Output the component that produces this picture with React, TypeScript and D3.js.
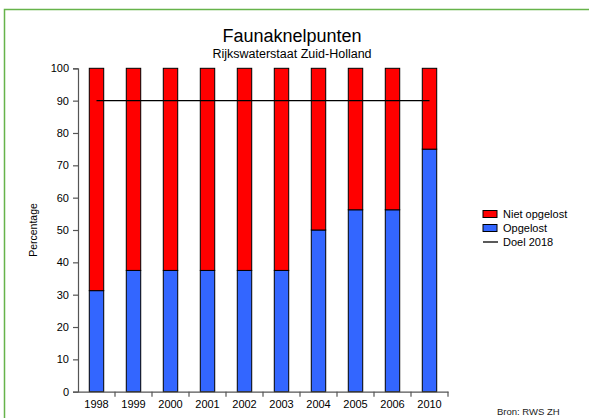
import * as d3 from 'd3';
import React, { useRef, useEffect } from 'react';

const years = ["1998", "1999", "2000", "2001", "2002", "2003", "2004", "2005", "2006", "2010"];
const opgelost = [31.25, 37.5, 37.5, 37.5, 37.5, 37.5, 50, 56.25, 56.25, 75];
const nietOpgelost = [68.75, 62.5, 62.5, 62.5, 62.5, 62.5, 50, 43.75, 43.75, 25];
const doel2018 = 90;
const yTicks = [0, 10, 20, 30, 40, 50, 60, 70, 80, 90, 100];
const legendItems = ["Niet opgelost", "Opgelost", "Doel 2018"];

const W = 589;
const H = 418;
const font = "Liberation Sans, Arial, sans-serif";

function App() {
    const ref = useRef<SVGSVGElement>(null);

    useEffect(() => {
        const svg = d3.select(ref.current);
        svg.selectAll("*").remove();

        // groene rand
        svg.append("rect")
            .attr("x", 4.5).attr("y", 9.5)
            .attr("width", W + 10).attr("height", H + 10)
            .attr("fill", "none")
            .attr("stroke", "#66b34a")
            .attr("stroke-width", 1.5);

        svg.append("text")
            .attr("x", 292).attr("y", 42)
            .attr("text-anchor", "middle")
            .attr("font-family", font)
            .attr("font-size", 18)
            .text("Faunaknelpunten");
        svg.append("text")
            .attr("x", 292).attr("y", 58)
            .attr("text-anchor", "middle")
            .attr("font-family", font)
            .attr("font-size", 12.5)
            .text("Rijkswaterstaat Zuid-Holland");

        const x = d3.scaleBand()
            .domain(years)
            .range([78, 448])
            .paddingInner(0)
            .paddingOuter(0);
        const y = d3.scaleLinear()
            .domain([0, 100])
            .range([391.7, 68.3]);

        const bw = x.bandwidth() * 0.39;
        const cx = (d: string) => (x(d) as number) + x.bandwidth() / 2;

        const rows = years.map((yr, i) => ({ yr, a: opgelost[i], b: nietOpgelost[i] }));

        const g = svg.append("g");
        g.selectAll("rect.blue")
            .data(rows)
            .join("rect")
            .attr("class", "blue")
            .attr("x", d => cx(d.yr) - bw / 2)
            .attr("width", bw)
            .attr("y", d => y(d.a))
            .attr("height", d => y(0) - y(d.a))
            .attr("fill", "#3366ff")
            .attr("stroke", "#000")
            .attr("stroke-width", 1);
        g.selectAll("rect.red")
            .data(rows)
            .join("rect")
            .attr("class", "red")
            .attr("x", d => cx(d.yr) - bw / 2)
            .attr("width", bw)
            .attr("y", d => y(d.a + d.b))
            .attr("height", d => y(d.a) - y(d.a + d.b))
            .attr("fill", "#ff0000")
            .attr("stroke", "#000")
            .attr("stroke-width", 1);

        // doel lijn
        svg.append("line")
            .attr("x1", cx(years[0])).attr("x2", cx(years[years.length - 1]))
            .attr("y1", y(doel2018)).attr("y2", y(doel2018))
            .attr("stroke", "#000")
            .attr("stroke-width", 1.3);

        // Y axis
        const yAxis = svg.append("g")
            .attr("transform", `translate(78,0)`)
            .call(d3.axisLeft(y).tickValues(yTicks).tickSizeOuter(0).tickSize(5).tickPadding(4));
        yAxis.selectAll("path, line").attr("stroke", "#555").attr("stroke-width", 1.2);
        yAxis.selectAll("text").attr("font-family", font).attr("font-size", 11).attr("fill", "#000");

        // X axis
        const xAxis = svg.append("g")
            .attr("transform", `translate(0,${y(0)})`)
            .call(d3.axisBottom(x).tickSize(0).tickPadding(9).tickSizeOuter(0));
        xAxis.select("path").attr("stroke", "#555").attr("stroke-width", 1.2);
        xAxis.selectAll("text").attr("font-family", font).attr("font-size", 11).attr("fill", "#000");
        xAxis.selectAll("line.sep")
            .data(years.map(yr => (x(yr) as number) + x.bandwidth()))
            .join("line")
            .attr("class", "sep")
            .attr("x1", d => d).attr("x2", d => d)
            .attr("y1", 0).attr("y2", 5)
            .attr("stroke", "#555").attr("stroke-width", 1.2);

        svg.append("text")
            .attr("transform", `translate(37,${(y(0) + y(100)) / 2}) rotate(-90)`)
            .attr("text-anchor", "middle")
            .attr("font-family", font)
            .attr("font-size", 10.5)
            .text("Percentage");

        // legend
        const leg = svg.append("g").attr("transform", "translate(483,214)");
        const colors = ["#ff0000", "#3366ff"];
        legendItems.forEach((name, i) => {
            const row = leg.append("g").attr("transform", `translate(0,${i * 14})`);
            if (i < 2) {
                row.append("rect")
                    .attr("x", 0).attr("y", -3.5)
                    .attr("width", 14).attr("height", 7)
                    .attr("fill", colors[i])
                    .attr("stroke", "#000");
            } else {
                row.append("line")
                    .attr("x1", 0).attr("x2", 15)
                    .attr("y1", 0).attr("y2", 0)
                    .attr("stroke", "#000").attr("stroke-width", 1.3);
            }
            row.append("text")
                .attr("x", 20).attr("y", 4)
                .attr("font-family", font)
                .attr("font-size", 11)
                .text(name);
        });

        svg.append("text")
            .attr("x", 497).attr("y", 415)
            .attr("font-family", font)
            .attr("font-size", 9.5)
            .attr("fill", "#222")
            .text("Bron: RWS ZH");
    }, []);

    return (
        <svg ref={ref} width={W} height={H}
            style={{ position: "absolute", left: 0, top: 0, display: "block", background: "#fff" }}>
        </svg>
    );
}

export default App;
